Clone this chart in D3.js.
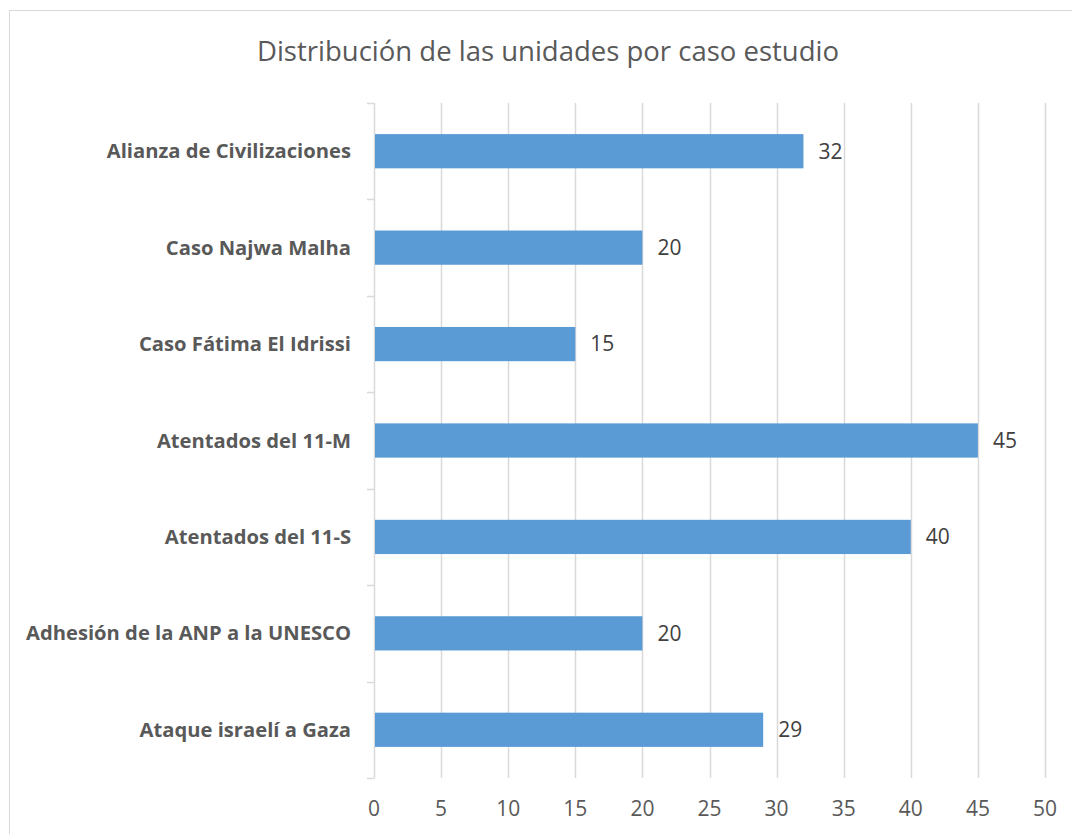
<!DOCTYPE html>
<html><head><meta charset="utf-8">
<script src="https://cdn.jsdelivr.net/npm/d3@7"></script>
<style>body{margin:0;background:#fff}svg{display:block}</style>
</head><body>
<script>
const categories = ["Alianza de Civilizaciones","Caso Najwa Malha","Caso Fátima El Idrissi","Atentados del 11-M","Atentados del 11-S","Adhesión de la ANP a la UNESCO","Ataque israelí a Gaza"];
const values = [32,20,15,45,40,20,29];
const xTicks = [0,5,10,15,20,25,30,35,40,45,50];
const title = "Distribución de las unidades por caso estudio";

(function(){
const W=1072,H=834;
const svg=d3.select("body").append("svg").attr("width",W).attr("height",H);
svg.append("rect").attr("x",9.5).attr("y",10.5).attr("width",1080).attr("height",840)
  .attr("fill","#fff").attr("stroke","#d9d9d9").attr("stroke-width",1);

const font="'Open Sans', sans-serif";
const pL=374,pR=1045,pT=103,pB=778;
const x=d3.scaleLinear().domain([0,50]).range([pL,pR]);
const y=d3.scaleBand().domain(categories).range([pT,pB]).paddingInner(0.645).paddingOuter(0.3225);
const yb=d3.scaleBand().domain(categories).range([pT,pB]);

svg.append("text").attr("x",548).attr("y",61).attr("text-anchor","middle")
  .attr("font-family",font).attr("font-size",27.5).attr("fill","#595959").text(title);

// grid
svg.append("g").selectAll("line").data(xTicks.slice(1)).join("line")
  .attr("x1",d=>Math.round(x(d))+0.5).attr("x2",d=>Math.round(x(d))+0.5)
  .attr("y1",pT).attr("y2",pB).attr("stroke","#d9d9d9").attr("stroke-width",1.5);

// y axis
const yAxisG=svg.append("g");
yAxisG.append("line").attr("x1",pL+0.5).attr("x2",pL+0.5).attr("y1",pT).attr("y2",pB)
  .attr("stroke","#d9d9d9").attr("stroke-width",1.5);
const bounds=categories.map(c=>yb(c)).concat([pB]);
yAxisG.selectAll("line.t").data(bounds).join("line").attr("class","t")
  .attr("x1",pL-7).attr("x2",pL+0.5).attr("y1",d=>Math.round(d)+0.5).attr("y2",d=>Math.round(d)+0.5)
  .attr("stroke","#d9d9d9").attr("stroke-width",1.5);

// bars
svg.append("g").selectAll("rect").data(values).join("rect")
  .attr("x",x(0)+1).attr("y",(d,i)=>y(categories[i])).attr("width",d=>x(d)-x(0)-1)
  .attr("height",y.bandwidth()).attr("fill","#5b9bd5");

// value labels
svg.append("g").selectAll("text").data(values).join("text")
  .attr("x",d=>x(d)+15).attr("y",(d,i)=>y(categories[i])+y.bandwidth()/2).attr("dy","0.35em")
  .attr("font-family",font).attr("font-size",21).attr("fill","#404040").text(d=>d);

// category labels
svg.append("g").selectAll("text").data(categories).join("text")
  .attr("x",351).attr("y",d=>yb(d)+yb.bandwidth()/2).attr("dy","0.35em").attr("text-anchor","end")
  .attr("font-family",font).attr("font-weight","bold").attr("font-size",20.2).attr("fill","#595959")
  .text(d=>d);

// x tick labels
svg.append("g").selectAll("text").data(xTicks).join("text")
  .attr("x",d=>x(d)).attr("y",816).attr("text-anchor","middle")
  .attr("font-family",font).attr("font-size",21).attr("fill","#595959").text(d=>d);
})();
</script>
</body></html>
